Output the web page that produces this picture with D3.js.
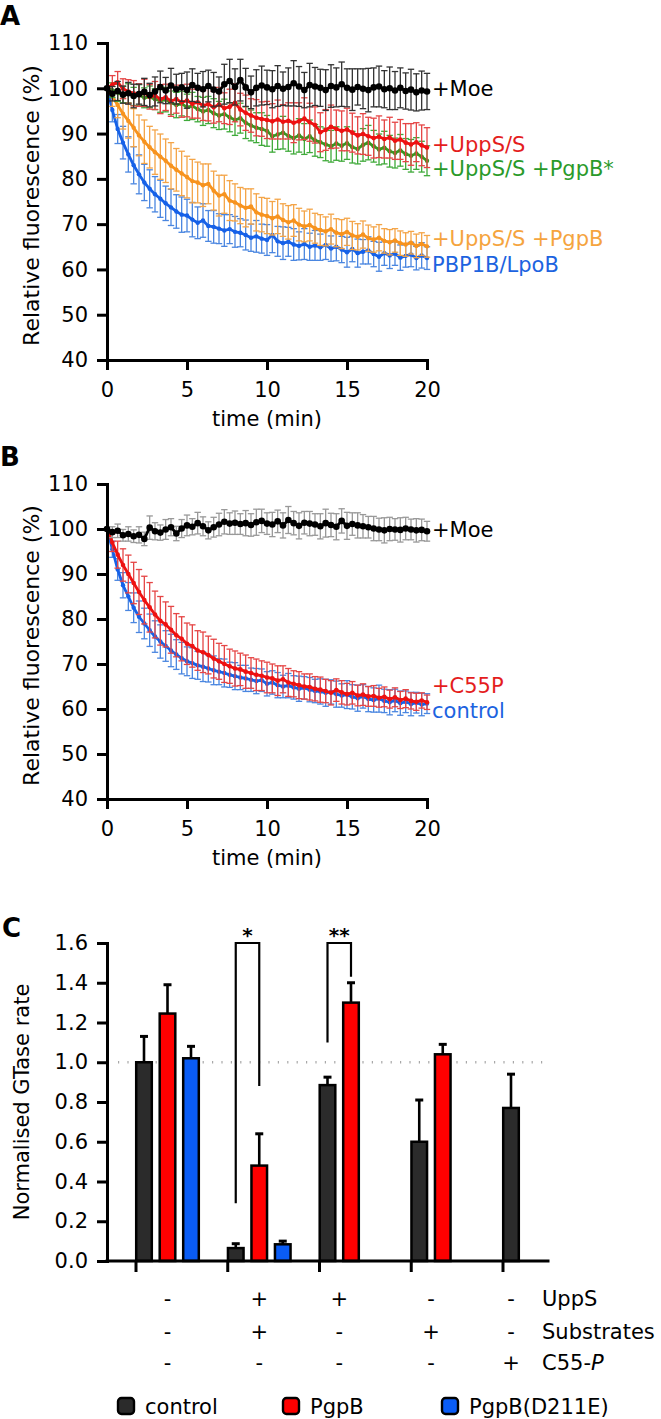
<!DOCTYPE html>
<html><head><meta charset="utf-8">
<script src="https://cdn.jsdelivr.net/npm/d3@7"></script>
<style>body{margin:0;background:#fff}svg text{font-family:"DejaVu Sans",sans-serif}</style>
</head><body><svg id="c" width="661" height="1419"></svg>
<script>
// ---------------- DATA ----------------
const sampleSec = [0,20,40,60,80,100,120,140,160,180,200,220,240,260,280,300,320,340,360,380,400,420,440,460,480,500,520,540,560,580,600,620,640,660,680,700,720,740,760,780,800,820,840,860,880,900,920,940,960,980,1000,1020,1040,1060,1080,1100,1120,1140,1160,1180,1200];
const timeTicks = [0,5,10,15,20];
const fluorTicks = [40,50,60,70,80,90,100,110];

// Panel A
const A_moe = [100,98.8,99.4,98.6,98.9,98.3,98.7,99.2,98.5,99.3, 100.3,99.5,100.6,99.8,100.2,99.6,100.7,100.1,99.8,100.5, 99.7,99.3,100.9,101.6,100.3,101.8,100.2,99.1,100.1,100.6, 100.2,99.8,100.5,99.9,100.3,101.1,100.4,99.6,100.7,100.4, 100.1,99.6,100.5,100.2,100.9,100.1,99.7,100.3,99.9,99.6, 100.2,100.4,99.8,100.0,99.5,100.1,99.4,99.7,99.1,99.5, 99.3];
const A_moe_err = [0,1.6,2.1,1.9,2.4,2.6,2.2,3.0,2.6,3.2, 3.5,2.9,3.8,3.3,3.1,4.0,3.6,3.2,3.9,3.5, 3.8,3.2,4.4,4.8,4.0,4.6,4.2,3.6,4.0,4.3, 3.8,4.1,4.5,3.7,4.2,5.0,4.4,3.9,4.8,4.2, 4.1,4.5,4.7,4.3,4.9,4.2,4.6,4.0,4.4,4.8, 4.3,4.5,4.1,4.7,4.2,4.4,4.0,4.5,4.1,4.3, 4.0];
const A_upps = [100,100.8,101.3,99.9,99.3,98.9,98.5,99.0,98.1,98.4, 97.6,98.0,97.2,97.6,96.9,97.3,96.6,96.9,96.2,96.5, 95.8,96.4,95.6,95.9,96.8,95.3,94.6,94.0,93.5,93.2, 93.0,92.7,93.1,92.6,92.8,92.4,92.7,93.3,92.5,91.9, 90.3,90.8,91.5,91.0,90.6,90.9,90.2,89.6,89.9,89.4, 89.0,89.3,88.8,89.1,88.4,88.7,88.0,87.6,88.1,87.4, 86.9];
const A_upps_err = [0,2.0,2.4,2.2,2.6,2.8,2.5,3.0,2.7,3.1, 3.2,2.9,3.4,3.1,3.3,3.6,3.2,3.5,3.3,3.7, 3.5,3.8,3.4,3.9,4.2,3.6,3.9,3.7,4.0,3.8, 4.1,3.9,4.3,3.8,4.0,4.4,4.1,4.6,4.2,4.0, 4.3,4.5,4.8,4.2,4.4,4.7,4.3,4.1,4.5,4.2, 4.4,4.6,4.2,4.5,4.1,4.4,4.2,4.6,4.3,4.5, 4.4];
const A_pgpbStar = [100,99.6,99.0,98.6,98.9,98.2,98.5,97.9,98.1,97.6, 97.2,97.5,96.8,96.3,96.6,95.8,96.1,95.4,94.9,95.2, 94.5,94.0,94.3,93.6,93.0,93.4,92.4,91.8,91.3,91.0, 90.6,89.4,89.8,90.2,89.5,89.0,89.6,88.8,89.4,88.5, 88.1,87.6,87.2,87.8,87.3,87.9,87.0,86.6,87.5,88.0, 87.2,86.5,86.9,86.1,85.7,86.3,85.5,85.1,85.6,84.9, 84.0];
const A_pgpbStar_err = [0,1.6,1.9,1.8,2.1,2.0,2.3,2.2,2.4,2.3, 2.5,2.7,2.6,2.8,2.7,2.9,3.0,2.8,3.1,3.0, 3.2,3.1,3.3,3.2,3.4,3.3,3.5,3.4,3.3,3.6, 3.4,3.5,3.3,3.6,3.4,3.5,3.7,3.4,3.6,3.5, 3.4,3.6,3.5,3.7,3.4,3.6,3.5,3.3,3.6,3.8, 3.5,3.4,3.6,3.5,3.3,3.5,3.4,3.6,3.5,3.4, 3.3];
const A_pgpb = [100,98.2,96.3,94.4,92.8,91.3,89.6,88.2,87.0,85.9, 84.9,84.0,82.9,82.0,81.2,80.4,79.5,79.2,78.6,78.9, 77.4,76.3,76.6,75.2,74.8,74.1,73.6,73.9,72.6,72.1, 71.8,71.3,71.7,70.9,70.4,70.8,69.9,69.5,69.8,69.1, 68.7,68.4,68.9,68.1,67.8,68.3,67.5,67.2,67.7,66.9, 66.6,67.0,66.3,66.0,66.4,65.8,65.5,65.9,65.2,65.6, 65.1];
const A_pgpb_err = [0,2.2,2.8,3.4,3.8,4.2,4.5,4.8,4.6,4.9, 5.0,4.8,5.1,4.7,4.9,4.6,4.8,4.5,4.7,4.4, 4.3,4.5,4.2,4.4,4.1,4.0,4.2,3.9,4.1,3.8, 3.9,3.7,3.8,3.6,3.7,3.5,3.6,3.4,3.5,3.3, 3.4,3.2,3.3,3.1,3.2,3.0,3.1,2.9,3.0,2.9, 2.8,2.9,2.7,2.8,2.6,2.7,2.6,2.5,2.6,2.5, 2.4];
const A_pbp = [100,95.2,91.0,88.0,85.4,83.0,81.0,79.2,77.8,76.6, 75.6,74.6,73.7,72.8,72.1,71.9,71.0,70.3,70.8,69.6, 69.4,69.0,68.6,68.9,68.3,68.1,67.6,67.0,67.3,66.8, 66.5,67.6,66.2,65.8,66.1,65.5,65.2,65.6,65.0,65.3, 64.9,65.4,64.6,65.0,64.4,63.8,64.5,63.6,63.9,64.2, 63.4,62.8,63.6,63.1,63.5,62.6,63.0,63.3,62.5,63.1, 62.5];
const A_pbp_err = [0,2.6,3.2,3.6,3.9,4.1,4.3,4.0,4.2,3.9, 4.1,3.8,4.0,3.7,3.9,3.6,3.8,3.5,3.7,3.4, 3.6,3.3,3.5,3.2,3.4,3.1,3.3,3.0,3.5,3.2, 3.4,3.9,3.3,3.6,3.2,3.5,3.1,3.4,3.0,3.3, 2.9,3.2,2.8,3.1,2.9,3.3,2.8,3.1,2.7,3.0, 2.8,3.2,2.7,2.9,2.6,2.8,2.5,2.7,2.6,2.8, 2.5];

// Panel B
const B_moe = [100,99.3,99.6,98.6,98.9,98.4,98.7,97.8,100.3,99.5, 99.2,99.9,100.4,99.0,100.1,100.8,100.5,101.3,100.6,99.7, 100.4,101.0,101.6,101.2,101.4,101.1,101.3,100.9,101.5,101.8, 101.2,101.0,101.7,100.8,102.0,101.3,100.7,101.4,101.2,101.0, 100.6,101.3,100.9,100.5,101.8,100.7,101.1,100.8,100.6,100.4, 100.1,99.9,99.7,100.0,99.9,99.8,100.1,99.9,99.7,99.8, 99.5];
const B_moe_err = [0,1.2,1.5,1.3,1.6,1.4,1.8,1.5,2.6,1.9, 1.7,2.2,1.9,1.6,2.0,2.3,1.8,2.4,2.1,1.9, 2.2,2.5,2.7,2.4,2.6,2.3,2.8,2.5,2.9,2.6, 2.4,2.7,2.5,2.8,3.0,2.6,2.9,2.5,2.7,2.4, 2.8,3.1,2.6,2.9,2.7,3.0,2.5,2.8,2.6,2.4, 2.7,2.5,2.8,2.6,2.4,2.7,2.5,2.3,2.6,2.4, 2.2];
const B_c55p = [100,97.0,94.3,92.0,90.0,88.0,86.0,84.2,82.6,81.0, 79.6,78.8,77.6,76.4,75.6,74.5,74.0,73.0,72.6,72.0, 71.2,70.6,70.0,69.5,69.0,68.8,68.3,68.0,67.6,67.4, 67.0,66.8,66.3,66.6,65.9,65.6,65.3,65.0,64.9,64.5, 64.3,64.0,63.6,64.2,63.7,63.3,63.6,63.0,63.2,62.8, 62.9,62.5,62.7,62.2,62.6,62.0,62.3,61.8,61.6,61.9, 61.5];
const B_c55p_err = [0,2.0,3.0,3.6,4.2,4.6,5.0,5.3,5.5,5.2, 5.4,5.0,5.2,4.8,4.9,4.6,4.7,4.4,4.5,4.2, 4.3,4.0,4.1,3.8,3.9,3.6,3.7,3.4,3.5,3.3, 3.4,3.2,3.3,3.0,3.1,2.9,3.0,2.8,2.9,2.7, 2.8,2.6,2.7,2.5,2.6,2.4,2.5,2.3,2.4,2.2, 2.3,2.1,2.2,2.0,2.1,1.9,2.0,1.8,1.9,1.7, 1.6];
const B_ctrl = [100,95.5,91.0,87.5,85.0,82.5,80.5,79.0,77.5,76.1, 75.0,74.0,73.0,72.1,71.3,70.6,70.2,69.7,69.4,69.0, 68.6,68.3,68.0,67.6,67.3,67.0,66.8,66.5,66.2,66.4, 65.6,65.9,65.3,65.0,65.2,64.8,64.5,64.7,64.3,64.0, 63.9,63.6,63.8,63.3,63.0,63.2,62.7,62.4,62.8,62.2, 62.0,62.3,61.8,61.5,61.9,61.3,61.6,61.1,61.4,61.0, 61.2];
const B_ctrl_err = [0,1.8,2.4,2.8,3.1,3.3,3.5,3.4,3.6,3.5, 3.7,3.4,3.6,3.3,3.5,3.2,3.4,3.1,3.3,3.0, 3.2,2.9,3.1,2.8,3.0,2.7,2.9,2.6,2.8,2.5, 2.7,2.6,2.8,2.5,2.7,2.6,2.8,2.5,2.7,2.6, 2.8,3.0,2.7,2.9,2.6,3.1,2.7,2.9,2.6,2.8, 2.7,3.0,2.6,2.8,2.5,2.7,2.4,2.6,2.3,2.5, 2.2];

// Panel C
const cGroups = ["g1","g2","g3","g4","g5"];
const cSeries = ["control","PgpB","PgpB(D211E)"];
const cControl = [1.00,0.065,0.885,0.60,0.77];
const cControlErr = [0.13,0.022,0.04,0.21,0.17];
const cPgpB = [1.245,0.48,1.30,1.04,null];
const cPgpBErr = [0.145,0.16,0.10,0.05,null];
const cD211E = [1.02,0.084,null,null,null];
const cD211EErr = [0.06,0.016,null,null,null];
const cTicks = [0,0.2,0.4,0.6,0.8,1.0,1.2,1.4,1.6];
const cReference = 1.0;
const sigLabels = ["*","**"];
const sigGroups = [1,2];
const sigLeftEnd = [0.29,1.10];
const sigRightEnd = [0.88,1.43];
const sigTop = [1.6,1.6];
const tableRows = ["UppS","Substrates","C55-"];
const rowUppS = ["-","+","+","-","-"];
const rowSubstrates = ["-","+","-","+","-"];
const rowC55P = ["-","-","-","-","+"];

// ---------------- DRAW ----------------
const svg = d3.select("#c");
const FS = 21;

function styleAxis(g){
  g.select(".domain").attr("stroke","#000").attr("stroke-width",3).attr("stroke-linecap","square");
  g.selectAll(".tick line").attr("stroke","#000").attr("stroke-width",3);
  g.selectAll("text").attr("font-size",FS).attr("fill","#000").attr("font-family","DejaVu Sans, sans-serif");
  g.attr("font-family",null).attr("font-size",null);
}

function timePanel(cfg){
  const x = d3.scaleLinear().domain([0,20]).range([107,427]);
  const y = d3.scaleLinear().domain([40,110]).range([cfg.bottom,cfg.top]);
  const g = svg.append("g");
  cfg.series.forEach(s=>{
    const pts = sampleSec.map((sec,i)=>({t:sec/60,v:s.values[i],e:s.err[i]}));
    const eg = g.append("g").attr("stroke",s.errColor).attr("stroke-width",1.3).attr("fill","none");
    pts.forEach(p=>{
      if(!p.e) return;
      const px=x(p.t), y1=y(p.v+p.e), y2=y(p.v-p.e);
      eg.append("line").attr("x1",px).attr("x2",px).attr("y1",y1).attr("y2",y2);
      eg.append("line").attr("x1",px-3.2).attr("x2",px+3.2).attr("y1",y1).attr("y2",y1);
      eg.append("line").attr("x1",px-3.2).attr("x2",px+3.2).attr("y1",y2).attr("y2",y2);
    });
    g.append("path").datum(pts)
      .attr("d",d3.line().x(d=>x(d.t)).y(d=>y(d.v)))
      .attr("fill","none").attr("stroke",s.color).attr("stroke-width",2.8).attr("stroke-linejoin","round");
    g.append("g").selectAll("circle").data(pts).join("circle")
      .attr("cx",d=>x(d.t)).attr("cy",d=>y(d.v)).attr("r",s.r).attr("fill",s.color);
  });
  const ya = g.append("g").attr("transform","translate(107,0)")
    .call(d3.axisLeft(y).tickValues(fluorTicks).tickSize(10).tickSizeOuter(0).tickPadding(9));
  styleAxis(ya);
  const xa = g.append("g").attr("transform",`translate(0,${cfg.bottom})`)
    .call(d3.axisBottom(x).tickValues(timeTicks).tickSize(10).tickSizeOuter(0).tickPadding(12));
  styleAxis(xa);
  g.append("text").attr("x",267).attr("y",cfg.bottom+66).attr("text-anchor","middle")
    .attr("font-size",FS).text("time (min)");
  g.append("text").attr("transform",`translate(39,${(cfg.top+cfg.bottom)/2+4}) rotate(-90)`)
    .attr("text-anchor","middle").attr("font-size",22).text("Relative fluorescence (%)");
  g.append("text").attr("x",0).attr("y",cfg.letterY).attr("font-size",26).attr("font-weight","bold").text(cfg.letter);
  cfg.labels.forEach(l=>{
    g.append("text").attr("x",432).attr("y",l.y).attr("font-size",FS).attr("fill",l.color).text(l.text);
  });
}

timePanel({
  top:43,bottom:360,letter:"A",letterY:25,
  series:[
    {values:A_pbp,err:A_pbp_err,color:"#1661e8",errColor:"#4a86e0",r:2.2},
    {values:A_pgpb,err:A_pgpb_err,color:"#f7931e",errColor:"#f4a548",r:2.2},
    {values:A_pgpbStar,err:A_pgpbStar_err,color:"#3e931f",errColor:"#3faa3a",r:2.2},
    {values:A_upps,err:A_upps_err,color:"#ee1111",errColor:"#e54545",r:2.3},
    {values:A_moe,err:A_moe_err,color:"#000",errColor:"#333",r:3.3}
  ],
  labels:[
    {text:"+Moe",y:96,color:"#000"},
    {text:"+UppS/S",y:152,color:"#e41d1d"},
    {text:"+UppS/S +PgpB*",y:176,color:"#2a9a2a"},
    {text:"+UppS/S +PgpB",y:246,color:"#f5a43e"},
    {text:"PBP1B/LpoB",y:272,color:"#1c63e0"}
  ]
});

timePanel({
  top:484,bottom:799,letter:"B",letterY:466,
  series:[
    {values:B_ctrl,err:B_ctrl_err,color:"#1661e8",errColor:"#4a86e0",r:2.2},
    {values:B_c55p,err:B_c55p_err,color:"#ee1111",errColor:"#e54545",r:2.3},
    {values:B_moe,err:B_moe_err,color:"#000",errColor:"#999",r:3.3}
  ],
  labels:[
    {text:"+Moe",y:537,color:"#000"},
    {text:"+C55P",y:693,color:"#e41d1d"},
    {text:"control",y:718,color:"#1c63e0"}
  ]
});

// ---- Panel C ----
(function(){
  const g = svg.append("g");
  const y = d3.scaleLinear().domain([0,1.6]).range([1261,943]);
  const gx = d3.scaleLinear().domain([0,4]).range([136,503]);
  const inner = d3.scaleBand().domain(cSeries).range([-1,64]).paddingInner(0.234);
  const colors = {"control":"#2b2b2b","PgpB":"#ff0000","PgpB(D211E)":"#0a5cf5"};
  const vals = {"control":cControl,"PgpB":cPgpB,"PgpB(D211E)":cD211E};
  const errs = {"control":cControlErr,"PgpB":cPgpBErr,"PgpB(D211E)":cD211EErr};
  const bars = [];
  cGroups.forEach((gr,gi)=>cSeries.forEach(s=>{
    const v = vals[s][gi];
    if(v!=null) bars.push({gi,s,v,e:errs[s][gi]});
  }));
  g.append("line").attr("x1",118).attr("x2",548).attr("y1",y(cReference)).attr("y2",y(cReference))
    .attr("stroke","#a8a8a8").attr("stroke-width",2.4).attr("stroke-dasharray","1.2,8.2");
  const bw = inner.bandwidth();
  bars.forEach(b=>{
    const cx = gx(b.gi)+inner(b.s)+bw/2;
    g.append("line").attr("x1",cx).attr("x2",cx).attr("y1",y(b.v)).attr("y2",y(b.v+b.e))
      .attr("stroke","#000").attr("stroke-width",2.6);
    g.append("line").attr("x1",cx-4).attr("x2",cx+4).attr("y1",y(b.v+b.e)).attr("y2",y(b.v+b.e))
      .attr("stroke","#000").attr("stroke-width",3);
  });
  g.append("g").selectAll("rect").data(bars).join("rect")
    .attr("x",d=>gx(d.gi)+inner(d.s)+1.2).attr("width",bw-2.4)
    .attr("y",d=>y(d.v)).attr("height",d=>y(0)-y(d.v))
    .attr("fill",d=>colors[d.s]).attr("stroke","#000").attr("stroke-width",2.5);
  sigLabels.forEach((lab,i)=>{
    const gi = sigGroups[i];
    const xl = gx(gi)+inner("control")+bw/2, xr = gx(gi)+inner("PgpB")+bw/2;
    g.append("path").attr("d",`M${xl},${y(sigLeftEnd[i])}V${y(sigTop[i])}H${xr}V${y(sigRightEnd[i])}`)
      .attr("fill","none").attr("stroke","#000").attr("stroke-width",2.2);
    g.append("text").attr("x",(xl+xr)/2).attr("y",y(sigTop[i])-1).attr("text-anchor","middle")
      .attr("font-size",20).attr("font-weight","bold").text(lab);
  });
  const ya = g.append("g").attr("transform","translate(107,0)")
    .call(d3.axisLeft(y).tickValues(cTicks).tickFormat(d3.format(".1f")).tickSize(10).tickSizeOuter(0).tickPadding(9));
  styleAxis(ya);
  g.append("line").attr("x1",107).attr("x2",548).attr("y1",y(0)).attr("y2",y(0))
    .attr("stroke","#000").attr("stroke-width",3).attr("stroke-linecap","square");
  g.append("g").selectAll("line").data(cGroups).join("line")
    .attr("x1",(d,i)=>gx(i)).attr("x2",(d,i)=>gx(i)).attr("y1",y(0)).attr("y2",y(0)+11)
    .attr("stroke","#000").attr("stroke-width",3);
  g.append("text").attr("transform",`translate(29,${(943+1261)/2}) rotate(-90)`)
    .attr("text-anchor","middle").attr("font-size",FS).text("Normalised GTase rate");
  g.append("text").attr("x",2).attr("y",937).attr("font-size",26).attr("font-weight","bold").text("C");
  const rowsData = [rowUppS,rowSubstrates,rowC55P];
  const rowY = [1306,1339,1370];
  const groupCenter = i => {
    const n = cSeries.filter(s=>vals[s][i]!=null).length;
    return gx(i)+inner(cSeries[0]) + (inner(cSeries[n-1])+bw-inner(cSeries[0]))/2;
  };
  rowsData.forEach((row,ri)=>{
    row.forEach((sym,ci)=>{
      g.append("text").attr("x",groupCenter(ci)).attr("y",rowY[ri]).attr("text-anchor","middle")
        .attr("font-size",FS).text(sym);
    });
    const t = g.append("text").attr("x",542).attr("y",rowY[ri]).attr("font-size",FS).text(tableRows[ri]);
    if(ri===2) t.append("tspan").attr("font-style","italic").text("P");
  });
  const legX = [117,282,441];
  cSeries.forEach((s,i)=>{
    g.append("rect").attr("x",legX[i]+1).attr("y",1398).attr("width",16).attr("height",16).attr("rx",3.5)
      .attr("fill",colors[s]).attr("stroke","#000").attr("stroke-width",2.4);
    g.append("text").attr("x",legX[i]+28).attr("y",1414).attr("font-size",FS).text(s);
  });
})();
</script></body></html>
